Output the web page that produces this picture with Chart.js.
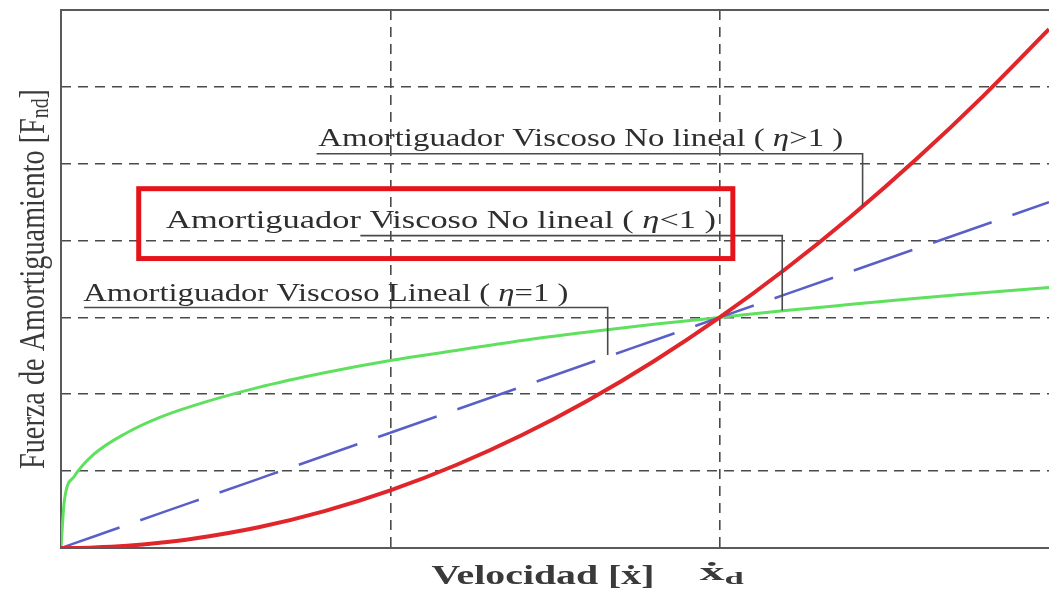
<!DOCTYPE html>
<html>
<head>
<meta charset="utf-8">
<script src="https://cdn.jsdelivr.net/npm/chart.js@4.4.1/dist/chart.umd.min.js"></script>
<style>
  html, body { margin: 0; padding: 0; background: #ffffff; }
  #wrap { width: 1049px; height: 593px; }
</style>
</head>
<body>
<div id="wrap"><canvas id="c" width="1049" height="593"></canvas></div>
<script>
// Velocity samples (x_d = 1) and damping force for the three damper types (F(x_d) = 3)
const velocity        = [0, 0.005, 0.02, 0.05, 0.1, 0.15, 0.2, 0.3, 0.4, 0.5, 0.6, 0.7, 0.8, 0.9, 1.0, 1.1, 1.2, 1.3, 1.4, 1.5];
const forceEtaAbove1  = [0, 0.0001, 0.0012, 0.0075, 0.03, 0.068, 0.12, 0.27, 0.48, 0.75, 1.08, 1.47, 1.92, 2.43, 3.0, 3.63, 4.32, 5.07, 5.88, 6.75];
const forceEtaEqual1  = [0, 0.015, 0.06, 0.15, 0.3, 0.45, 0.6, 0.9, 1.2, 1.5, 1.8, 2.1, 2.4, 2.7, 3.0, 3.3, 3.6, 3.9, 4.2, 4.5];
const forceEtaBelow1  = [0, 0.61, 0.93, 1.22, 1.50, 1.70, 1.85, 2.09, 2.28, 2.44, 2.57, 2.70, 2.81, 2.91, 3.0, 3.09, 3.17, 3.25, 3.32, 3.39];

const xTicks = [0.5, 1.0];
const yTicks = [1, 2, 3, 4, 5, 6];

const SERIF = '"Liberation Serif", "DejaVu Serif", serif';

function pts(ys) { return velocity.map((v, i) => ({ x: v, y: ys[i] })); }

// Draw a sequence of text runs (normal / italic / subscript) fitted to a width
function drawRuns(ctx, runs, cx, cy, width, size, color, weight) {
  ctx.save();
  ctx.textBaseline = 'alphabetic';
  const fontOf = (r) => (r.italic ? 'italic ' : '') + (weight || 'normal') + ' ' + (size * (r.scale || 1)) + 'px ' + SERIF;
  let total = 0;
  const widths = runs.map(r => {
    ctx.font = fontOf(r);
    const w = ctx.measureText(r.t).width;
    total += w;
    return w;
  });
  const sx = width ? width / total : 1;
  const w = width || total;
  ctx.translate(cx - w / 2, cy);
  ctx.scale(sx, 1);
  ctx.fillStyle = color;
  let x = 0;
  runs.forEach((r, i) => {
    ctx.font = fontOf(r);
    ctx.fillText(r.t, x, (r.dy || 0) * size);
    x += widths[i];
  });
  ctx.restore();
}

// Callout labels with their leader lines, in data units
const callouts = [
  { runs: [{ t: 'Amortiguador Viscoso No lineal ( ' }, { t: 'η', italic: true }, { t: '>1 )' }],
    cx: 0.789, cy: 5.23, width: 525,
    path: [[0.388, 5.13], [1.217, 5.13], [1.217, 4.45]] },
  { runs: [{ t: 'Amortiguador Viscoso No lineal ( ' }, { t: 'η', italic: true }, { t: '<1 )' }],
    cx: 0.577, cy: 4.17, width: 550,
    path: [[0.4545, 4.065], [1.095, 4.065], [1.095, 3.09]],
    box: [0.118, 4.675, 1.020, 3.766] },
  { runs: [{ t: 'Amortiguador Viscoso Lineal ( ' }, { t: 'η', italic: true }, { t: '=1 )' }],
    cx: 0.402, cy: 3.21, width: 485,
    path: [[0.035, 3.13], [0.830, 3.13], [0.830, 2.51]] }
];

const decorPlugin = {
  id: 'decor',
  beforeDatasetsDraw(chart) {
    const { ctx, chartArea: a } = chart;
    // frame
    ctx.save();
    ctx.strokeStyle = '#5a5a5a';
    ctx.lineWidth = 2;
    ctx.beginPath();
    ctx.moveTo(a.right + 2, a.top);
    ctx.lineTo(a.left, a.top);
    ctx.lineTo(a.left, a.bottom);
    ctx.lineTo(a.right + 2, a.bottom);
    ctx.stroke();
    ctx.restore();
  },
  afterDatasetsDraw(chart) {
    const { ctx, scales: { x, y } } = chart;
    callouts.forEach(c => {
      ctx.save();
      ctx.strokeStyle = '#4a4a4a';
      ctx.lineWidth = 1.6;
      ctx.beginPath();
      c.path.forEach((p, i) => {
        const px = x.getPixelForValue(p[0]), py = y.getPixelForValue(p[1]);
        if (i === 0) ctx.moveTo(px, py); else ctx.lineTo(px, py);
      });
      ctx.stroke();
      if (c.box) {
        ctx.strokeStyle = '#e5141b';
        ctx.lineWidth = 5;
        const x0 = x.getPixelForValue(c.box[0]), y0 = y.getPixelForValue(c.box[1]);
        const x1 = x.getPixelForValue(c.box[2]), y1 = y.getPixelForValue(c.box[3]);
        ctx.strokeRect(x0, y0, x1 - x0, y1 - y0);
      }
      ctx.restore();
      drawRuns(ctx, c.runs, x.getPixelForValue(c.cx), y.getPixelForValue(c.cy), c.width, 25, '#2e2e2e');
    });

    // axis titles
    const xd = x.getPixelForValue(1.0);
    drawRuns(ctx, [{ t: 'Velocidad [ẋ]' }], 543, 584, 223, 27, '#3a3a3a', 'bold');
    drawRuns(ctx, [{ t: 'ẋ' }, { t: 'd', scale: 0.7, dy: 0.15 }], xd + 2, 580, 44, 25, '#3a3a3a', 'bold');

    ctx.save();
    ctx.translate(44, 279);
    ctx.rotate(-Math.PI / 2);
    drawRuns(ctx, [{ t: 'Fuerza de Amortiguamiento [F' }, { t: 'nd', scale: 0.7, dy: 0.1 }, { t: ']' }], 0, 0, 380, 36, '#3a3a3a');
    ctx.restore();
  }
};

const gridColor = (ticks) => (ctx) => ticks.includes(Math.round(ctx.tick.value * 100) / 100) ? '#4a4a4a' : 'rgba(0,0,0,0)';

new Chart(document.getElementById('c'), {
  type: 'line',
  data: {
    datasets: [
      { label: 'η>1', data: pts(forceEtaAbove1), borderColor: '#e0262b', borderWidth: 4 },
      { label: 'η=1', data: pts(forceEtaEqual1), borderColor: '#5a5fc8', borderWidth: 2.5, borderDash: [62, 22] },
      { label: 'η<1', data: pts(forceEtaBelow1), borderColor: '#5fe05f', borderWidth: 3 }
    ]
  },
  options: {
    responsive: false,
    animation: false,
    layout: { autoPadding: false, padding: { left: 61, top: 10, right: 0, bottom: 45 } },
    elements: {
      point: { radius: 0 },
      line: { cubicInterpolationMode: 'monotone', fill: false }
    },
    plugins: { legend: { display: false }, tooltip: { enabled: false } },
    scales: {
      x: {
        type: 'linear', min: 0, max: 1.5,
        afterBuildTicks: (s) => { s.ticks = [0].concat(xTicks, [1.5]).map(v => ({ value: v })); },
        ticks: { display: false },
        grid: { drawTicks: false, lineWidth: 1.6, color: gridColor(xTicks) },
        border: { display: false, dash: [10, 7] }
      },
      y: {
        type: 'linear', min: 0, max: 7,
        afterBuildTicks: (s) => { s.ticks = [0].concat(yTicks, [7]).map(v => ({ value: v })); },
        ticks: { display: false },
        grid: { drawTicks: false, lineWidth: 1.6, color: gridColor(yTicks) },
        border: { display: false, dash: [10, 7] }
      }
    }
  },
  plugins: [decorPlugin]
});
</script>
</body>
</html>
